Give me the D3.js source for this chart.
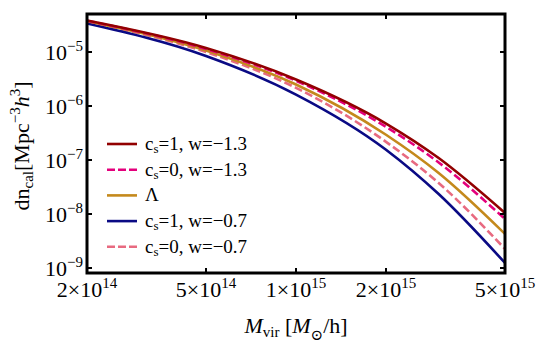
<!DOCTYPE html>
<html>
<head>
<meta charset="utf-8">
<script src="https://cdn.jsdelivr.net/npm/d3@7"></script>
<style>
body { margin: 0; background: white; }
text { font-family: "Liberation Serif", "DejaVu Serif", serif; fill: black; }
</style>
</head>
<body>
<div id="chart"></div>
<script>
// Data
var masses = [2e14, 5e14, 1e15, 2e15, 3e15, 5e15];
var dn_cs1_w13 = [3.83e-5, 1.187e-5, 3.10e-6, 4.74e-7, 1.089e-7, 1.044e-8];
var dn_cs0_w13 = [3.79e-5, 1.137e-5, 2.93e-6, 4.12e-7, 8.99e-8, 8.08e-9];
var dn_lambda  = [3.71e-5, 1.066e-5, 2.50e-6, 2.93e-7, 5.74e-8, 4.27e-9];
var dn_cs1_w07 = [3.37e-5, 8.43e-6, 1.63e-6, 1.55e-7, 2.34e-8, 1.24e-9];
var dn_cs0_w07 = [3.60e-5, 1.0e-5, 2.17e-6, 2.17e-7, 3.75e-8, 2.25e-9];

var xticks = [2e14, 5e14, 1e15, 2e15, 5e15];
var xtick_mant = ["2", "5", "1", "2", "5"];
var xtick_exp = ["14", "14", "15", "15", "15"];
var yticks = [1e-5, 1e-6, 1e-7, 1e-8, 1e-9];
var ytick_exp = ["\u22125", "\u22126", "\u22127", "\u22128", "\u22129"];

// legend order and styles
var series = [
  {name: ["1", "\u22121.3"], vals: dn_cs1_w13, color: "#920000", dash: null},
  {name: ["0", "\u22121.3"], vals: dn_cs0_w13, color: "#e4007c", dash: "8,3.5"},
  {name: null, vals: dn_lambda, color: "#c4891c", dash: null},
  {name: ["1", "\u22120.7"], vals: dn_cs1_w07, color: "#0a0a84", dash: null},
  {name: ["0", "\u22120.7"], vals: dn_cs0_w07, color: "#e86a80", dash: "8,3.5"}
];
// draw order: back to front
var draw_order = [4, 3, 2, 1, 0];

var width = 540, height = 349;
var pl = 87, pr = 505, pt = 14, pb = 273;

var svg = d3.select("#chart").append("svg")
    .attr("width", width)
    .attr("height", height);

var x = d3.scaleLog().domain([2e14, 5e15]).range([pl, pr]);
var y = d3.scaleLog().domain([Math.pow(10, -9.093), Math.pow(10, -4.296)]).range([pb, pt]);

svg.append("clipPath").attr("id", "clip")
    .append("rect")
    .attr("x", pl).attr("y", pt)
    .attr("width", pr - pl).attr("height", pb - pt);

// monotone in x: follows the real x spacing of the points
var line = d3.line()
    .x((d, i) => x(masses[i]))
    .y(d => y(d))
    .curve(d3.curveMonotoneX);

var g = svg.append("g").attr("clip-path", "url(#clip)");
draw_order.forEach(function(k) {
    var s = series[k];
    g.append("path")
	.attr("d", line(s.vals))
	.attr("fill", "none")
	.attr("stroke", s.color)
	.attr("stroke-width", 2.6)
	.attr("stroke-dasharray", s.dash);
});

// ticks, inward on all sides
var ticks = svg.append("g").attr("stroke", "black").attr("stroke-width", 2);
xticks.forEach(function(t) {
    ticks.append("line").attr("x1", x(t)).attr("x2", x(t)).attr("y1", pb).attr("y2", pb - 5);
    ticks.append("line").attr("x1", x(t)).attr("x2", x(t)).attr("y1", pt).attr("y2", pt + 5);
});
yticks.forEach(function(t) {
    ticks.append("line").attr("x1", pl).attr("x2", pl + 5).attr("y1", y(t)).attr("y2", y(t));
    ticks.append("line").attr("x1", pr).attr("x2", pr - 5).attr("y1", y(t)).attr("y2", y(t));
});

svg.append("rect")
    .attr("x", pl).attr("y", pt)
    .attr("width", pr - pl).attr("height", pb - pt)
    .attr("fill", "none")
    .attr("stroke", "black")
    .attr("stroke-width", 3);

// tick labels
xticks.forEach(function(t, i) {
    var tx = svg.append("text")
	.attr("x", x(t))
	.attr("y", 297)
	.attr("text-anchor", "middle")
	.style("font-size", "22px");
    tx.append("tspan").text(xtick_mant[i] + "\u00d710");
    tx.append("tspan").attr("dy", -9).style("font-size", "15px").text(xtick_exp[i]);
});
yticks.forEach(function(t, i) {
    var ty = svg.append("text")
	.attr("x", 83)
	.attr("y", y(t) + 8)
	.attr("text-anchor", "end")
	.style("font-size", "22px");
    ty.append("tspan").text("10");
    ty.append("tspan").attr("dy", -9).style("font-size", "15px").text(ytick_exp[i]);
});

// axis titles
var xt = svg.append("text")
    .attr("x", 296).attr("y", 333)
    .attr("text-anchor", "middle")
    .style("font-size", "22px");
xt.append("tspan").style("font-style", "italic").text("M");
xt.append("tspan").attr("dy", 4).style("font-size", "15px").text("vir");
xt.append("tspan").attr("dy", -4).text(" [");
xt.append("tspan").style("font-style", "italic").text("M");
xt.append("tspan").attr("dy", 7).style("font-size", "15px").text("\u2299");
xt.append("tspan").attr("dy", -7).text("/h]");

var yt = svg.append("text")
    .attr("transform", "translate(29,146) rotate(-90)")
    .attr("text-anchor", "middle")
    .style("font-size", "22px");
yt.append("tspan").text("dn");
yt.append("tspan").attr("dy", 4).style("font-size", "15px").text("cal");
yt.append("tspan").attr("dy", -4).text("[Mpc");
yt.append("tspan").attr("dy", -9).style("font-size", "15px").text("\u22123");
yt.append("tspan").attr("dy", 9).style("font-style", "italic").text("h");
yt.append("tspan").attr("dy", -9).style("font-size", "15px").text("3");
yt.append("tspan").attr("dy", 9).text("]");

// legend
var legend = svg.append("g");
series.forEach(function(s, i) {
    var ly = 144 + i * 25.7;
    legend.append("line")
	.attr("x1", 107).attr("x2", 137)
	.attr("y1", ly).attr("y2", ly)
	.attr("stroke", s.color)
	.attr("stroke-width", 2.6)
	.attr("stroke-dasharray", s.dash ? "8,3" : null);
    var lt = legend.append("text")
	.attr("x", 145).attr("y", ly + 6)
	.style("font-size", "19px");
    if (s.name == null) {
	lt.text("\u039b");
    } else {
	lt.append("tspan").text("c");
	lt.append("tspan").attr("dy", 3).style("font-size", "13px").text("s");
	lt.append("tspan").attr("dy", -3).text("=" + s.name[0] + ", w=" + s.name[1]);
    }
});
</script>
</body>
</html>
